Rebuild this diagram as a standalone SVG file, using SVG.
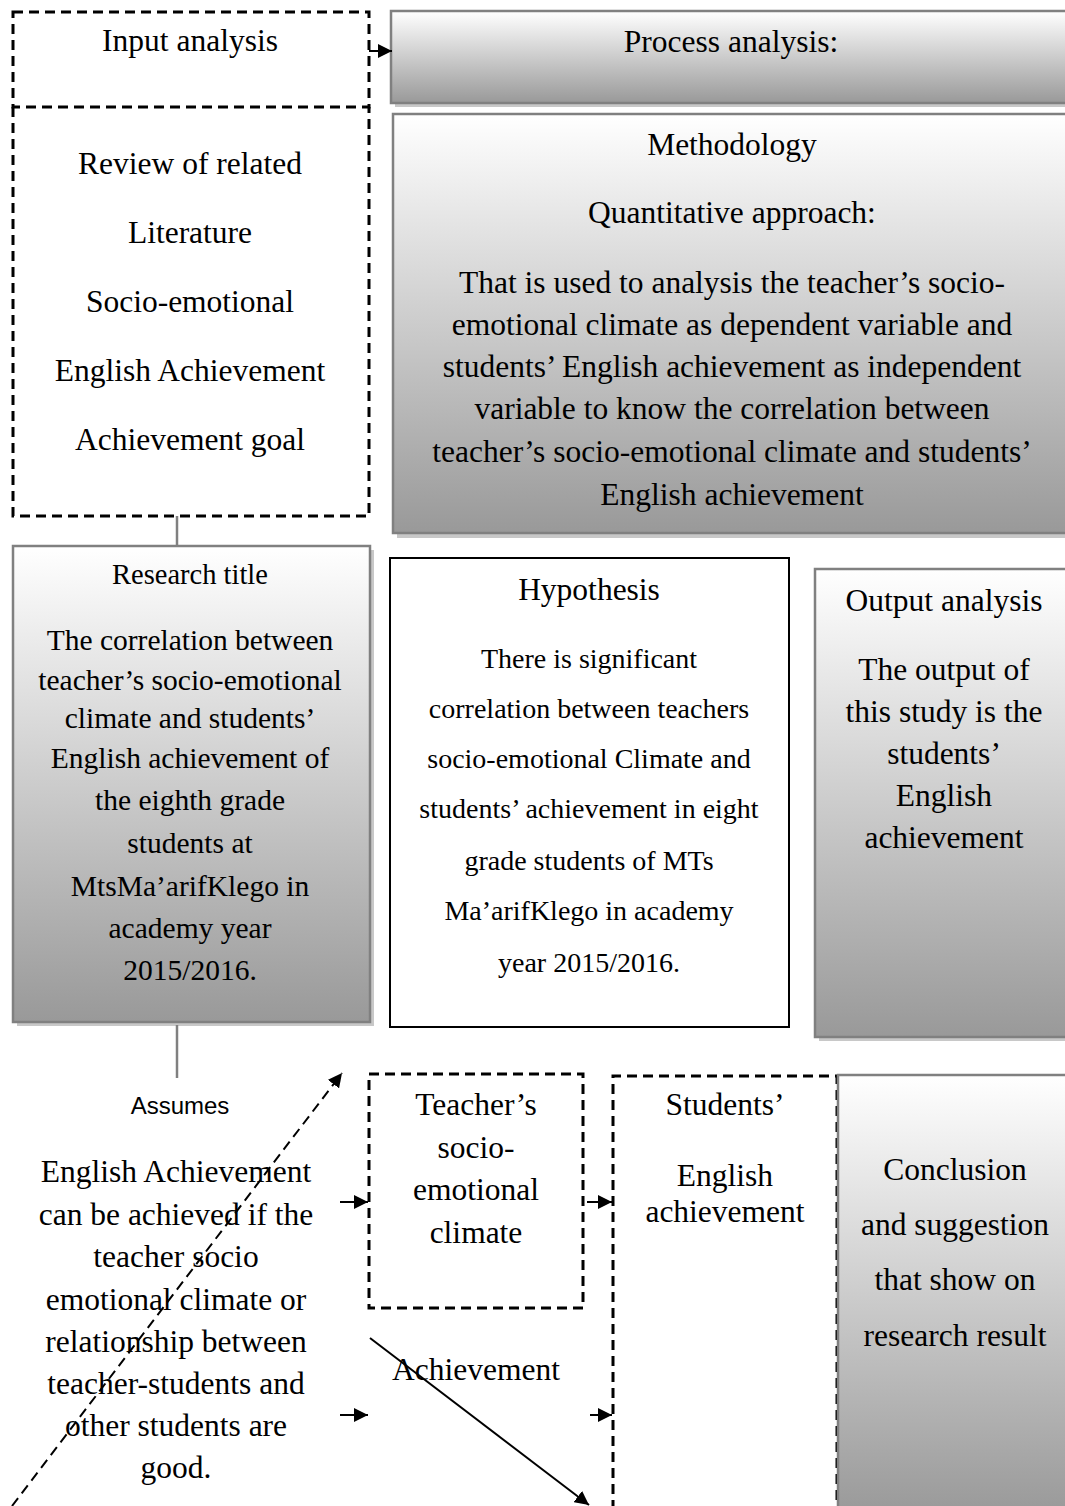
<svg xmlns="http://www.w3.org/2000/svg" width="1065" height="1506" viewBox="0 0 1065 1506">
<style>
.t{font-family:"Liberation Serif","Times New Roman",serif;font-size:31.5px;fill:#000;text-anchor:middle}
.s{font-size:29.5px}
.sans{font-family:"Liberation Sans",Arial,sans-serif;font-size:24px;fill:#000;text-anchor:middle}
.dash{fill:none;stroke:#000;stroke-width:3;stroke-dasharray:10 6}
.box{stroke:#808080;stroke-width:2.5;fill:url(#g)}
.shadow{fill:#c8c8c8}
.conn{stroke:#000;stroke-width:2;fill:none}
.gl{stroke:#808080;stroke-width:2.5;fill:none}
</style>
<defs>
<linearGradient id="g" x1="0" y1="0" x2="0" y2="1">
<stop offset="0" stop-color="#ffffff"/>
<stop offset="1" stop-color="#999999"/>
</linearGradient>
<marker id="ah" markerUnits="userSpaceOnUse" markerWidth="16" markerHeight="14" refX="14" refY="7" orient="auto">
<path d="M0,0 L14,7 L0,14 Z" fill="#000"/>
</marker>
</defs>
<rect width="1065" height="1506" fill="#fff"/>

<g id="input-analysis">
<rect class="dash" x="13" y="12" width="356" height="95"/>
<text class="t" x="190" y="51">Input analysis</text>
</g>
<g id="review">
<path class="dash" d="M13,107 V516 H369 V107"/>
<text class="t" x="190" y="174">Review of related</text>
<text class="t" x="190" y="243">Literature</text>
<text class="t" x="190" y="312">Socio-emotional</text>
<text class="t" x="190" y="381">English Achievement</text>
<text class="t" x="190" y="450">Achievement goal</text>
</g>
<g id="process-analysis">
<rect class="shadow" x="395" y="15" width="680" height="92"/>
<rect class="box" x="391" y="11" width="680" height="92"/>
<text class="t" x="731" y="52">Process analysis:</text>
</g>
<g id="methodology">
<rect class="shadow" x="397" y="118" width="680" height="420"/>
<rect class="box" x="393" y="114" width="680" height="419"/>
<text class="t" x="732" y="155">Methodology</text>
<text class="t" x="732" y="223">Quantitative approach:</text>
<text class="t" x="732" y="293">That is used to analysis the teacher’s socio-</text>
<text class="t" x="732" y="335">emotional climate as dependent variable and</text>
<text class="t" x="732" y="377">students’ English achievement as independent</text>
<text class="t" x="732" y="419">variable to know the correlation between</text>
<text class="t" x="732" y="462">teacher’s socio-emotional climate and students’</text>
<text class="t" x="732" y="505">English achievement</text>
</g>
<g id="research-title">
<rect class="shadow" x="17" y="550" width="357" height="476"/>
<rect class="box" x="13" y="546" width="357" height="476"/>
<text class="t" x="190" y="584" style="font-size:28.5px">Research title</text>
<text class="t s" x="190" y="650">The correlation between</text>
<text class="t s" x="190" y="690">teacher’s socio-emotional</text>
<text class="t s" x="190" y="728">climate and students’</text>
<text class="t s" x="190" y="768">English achievement of</text>
<text class="t s" x="190" y="810">the eighth grade</text>
<text class="t s" x="190" y="853">students at</text>
<text class="t s" x="190" y="896">MtsMa’arifKlego in</text>
<text class="t s" x="190" y="938">academy year</text>
<text class="t s" x="190" y="980">2015/2016.</text>
</g>
<g id="hypothesis">
<rect x="390" y="558" width="399" height="469" fill="#fff" stroke="#000" stroke-width="2"/>
<text class="t" x="589" y="600">Hypothesis</text>
<text class="t" x="589" y="668" style="font-size:28px">There is significant</text>
<text class="t" x="589" y="718" style="font-size:28px">correlation between teachers</text>
<text class="t" x="589" y="768" style="font-size:28px">socio-emotional Climate and</text>
<text class="t" x="589" y="818" style="font-size:28px">students’ achievement in eight</text>
<text class="t" x="589" y="870" style="font-size:28px">grade students of MTs</text>
<text class="t" x="589" y="920" style="font-size:28px">Ma’arifKlego in academy</text>
<text class="t" x="589" y="972" style="font-size:28px">year 2015/2016.</text>
</g>
<g id="output-analysis">
<rect class="shadow" x="819" y="573" width="260" height="468"/>
<rect class="box" x="815" y="569" width="260" height="468"/>
<text class="t" x="944" y="611">Output analysis</text>
<text class="t" x="944" y="680">The output of</text>
<text class="t" x="944" y="722">this study is the</text>
<text class="t" x="944" y="764">students’</text>
<text class="t" x="944" y="806">English</text>
<text class="t" x="944" y="848">achievement</text>
</g>
<g id="assumes">
<text class="sans" x="180" y="1114">Assumes</text>
<text class="t" x="176" y="1182">English Achievement</text>
<text class="t" x="176" y="1225">can be achieved if the</text>
<text class="t" x="176" y="1267">teacher socio</text>
<text class="t" x="176" y="1310">emotional climate or</text>
<text class="t" x="176" y="1352">relationship between</text>
<text class="t" x="176" y="1394">teacher-students and</text>
<text class="t" x="176" y="1436">other students are</text>
<text class="t" x="176" y="1478">good.</text>
</g>
<g id="teacher-climate">
<rect class="dash" x="369" y="1074" width="214" height="234"/>
<text class="t" x="476" y="1115">Teacher’s</text>
<text class="t" x="476" y="1158">socio-</text>
<text class="t" x="476" y="1200">emotional</text>
<text class="t" x="476" y="1243">climate</text>
</g>
<g id="achievement">
<text class="t" x="476" y="1380">Achievement</text>
</g>
<g id="students-achievement">
<path class="dash" d="M613,1510 V1076 H837 V1510"/>
<text class="t" x="725" y="1115">Students’</text>
<text class="t" x="725" y="1186">English</text>
<text class="t" x="725" y="1222">achievement</text>
</g>
<g id="conclusion">
<rect class="box" x="838" y="1075" width="240" height="440"/>
<text class="t" x="955" y="1180">Conclusion</text>
<text class="t" x="955" y="1235">and suggestion</text>
<text class="t" x="955" y="1290">that show on</text>
<text class="t" x="955" y="1346">research result</text>
</g>

<g id="connectors">
<line class="conn" x1="369" y1="51" x2="392" y2="51" marker-end="url(#ah)"/>
<line class="gl" x1="177" y1="516" x2="177" y2="546"/>
<line class="gl" x1="177" y1="1025" x2="177" y2="1078"/>
<line class="conn" x1="340" y1="1202" x2="368" y2="1202" marker-end="url(#ah)"/>
<line class="conn" x1="587" y1="1202" x2="612" y2="1202" marker-end="url(#ah)"/>
<line class="conn" x1="340" y1="1415" x2="368" y2="1415" marker-end="url(#ah)"/>
<line class="conn" x1="590" y1="1415" x2="612" y2="1415" marker-end="url(#ah)"/>
<line class="conn" x1="12" y1="1506" x2="342" y2="1073" stroke-dasharray="10 6" marker-end="url(#ah)"/>
<line class="conn" x1="370" y1="1338" x2="589" y2="1505" marker-end="url(#ah)"/>
</g>
</svg>
